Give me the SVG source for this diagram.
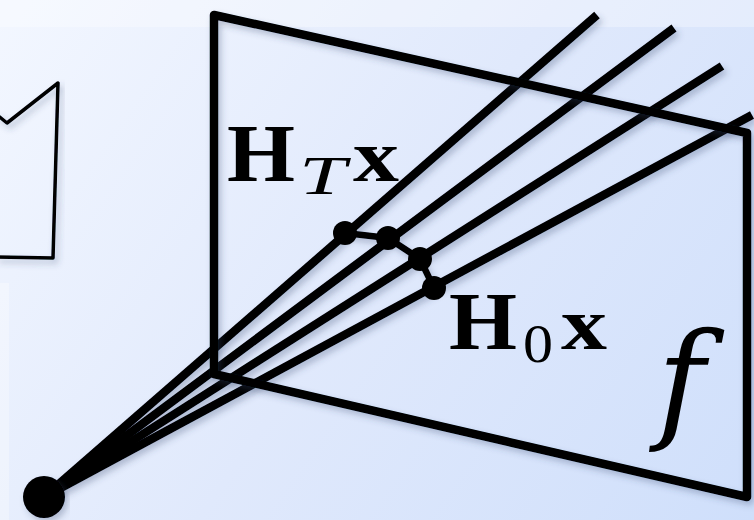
<svg xmlns="http://www.w3.org/2000/svg" width="754" height="520" viewBox="0 0 754 520">
<style>
.ln{fill:none;stroke:#000;stroke-linejoin:round}
.ray{stroke-width:8.5}
.b{font-family:"Liberation Serif",serif;font-weight:700;font-size:82px;fill:#000}
.x{font-family:"Liberation Serif",serif;font-weight:700;font-size:74px;fill:#000}
.s{font-family:"Liberation Serif",serif;font-size:55px;fill:#000}
.i{font-style:italic}
.f{font-family:"DejaVu Serif",serif;font-style:italic;font-size:130px;fill:#000}
</style>
<defs>
<linearGradient id="bg" gradientUnits="userSpaceOnUse" x1="0" y1="0" x2="754" y2="520">
<stop offset="0" stop-color="#f3f7ff"/><stop offset=".5" stop-color="#e0e9fc"/><stop offset="1" stop-color="#cfdffb"/>
</linearGradient>
<filter id="sh" x="-10%" y="-10%" width="120%" height="120%"><feDropShadow dx="3" dy="4" stdDeviation="3" flood-color="#3a4a70" flood-opacity=".3"/></filter>
</defs>
<rect width="754" height="520" fill="url(#bg)"/>
<rect width="754" height="27" fill="#fff" opacity=".3"/>
<rect y="283" width="9" height="237" fill="#fff" opacity=".3"/>
<g id="camera" filter="url(#sh)"><path class="ln" stroke-width="3.5" d="M-4 114L7 123L58 83L53 258L-4 257"/></g>
<g id="connectors" filter="url(#sh)">
<path class="ln ray" d="M44 497L597 15"/>
<path class="ln ray" d="M44 497L674 28"/>
<path class="ln ray" d="M44 497L722 66"/>
<path class="ln ray" d="M44 497L752 115"/>
<path class="ln" stroke-width="6.5" d="M345 233L388 238L420 259L434 288"/>
</g>
<g id="plane-f" filter="url(#sh)">
<path class="ln" stroke-width="8.5" d="M214 15L747 133V497L214 374Z"/>
</g>
<g id="origin" filter="url(#sh)"><circle cx="44" cy="497" r="21"/></g>
<g id="p1"><circle cx="345" cy="233" r="12"/></g>
<g id="p2"><circle cx="388" cy="238" r="12"/></g>
<g id="p3"><circle cx="420" cy="259" r="12"/></g>
<g id="p4"><circle cx="434" cy="288" r="12"/></g>
<g id="label-ht">
<text class="b" x="227" y="181" textLength="68" lengthAdjust="spacingAndGlyphs">H</text>
<text class="s i" x="299" y="194" textLength="47" lengthAdjust="spacingAndGlyphs">T</text>
<text class="x" x="353" y="181" textLength="46" lengthAdjust="spacingAndGlyphs">x</text>
</g>
<g id="label-h0">
<text class="b" x="449" y="349" textLength="68" lengthAdjust="spacingAndGlyphs">H</text>
<text class="s" x="523" y="362" textLength="30" lengthAdjust="spacingAndGlyphs">0</text>
<text class="x" x="561" y="349" textLength="46" lengthAdjust="spacingAndGlyphs">x</text>
</g>
<g id="label-f"><text class="f" x="657" y="425">f</text></g>
</svg>
